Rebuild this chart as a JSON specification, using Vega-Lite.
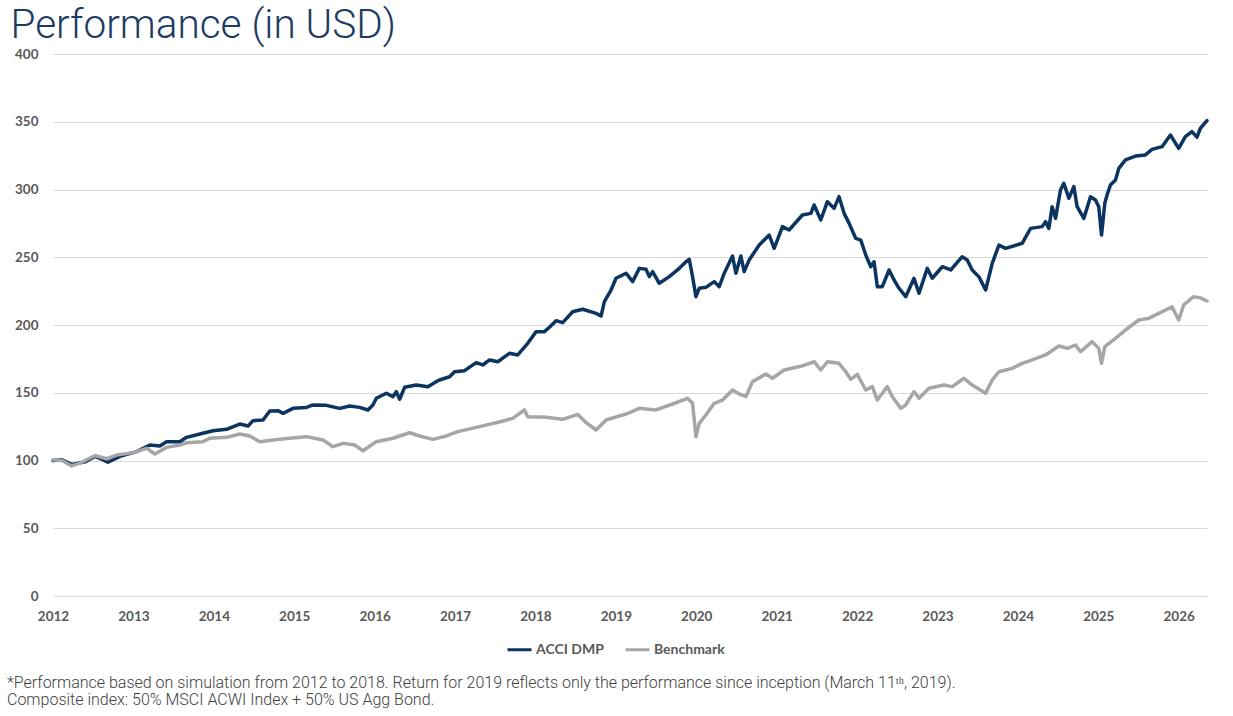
{
  "$schema": "https://vega.github.io/schema/vega-lite/v6.json",
  "width": 1154,
  "height": 542,
  "autosize": {"type": "none"},
  "padding": {"left": 53, "top": 54, "right": 26, "bottom": 120},
  "background": "white",
  "config": {
    "view": {"stroke": null},
    "font": "Lato"
  },
  "title": {
    "text": ["*Performance based on simulation from 2012 to 2018. Return for 2019 reflects only the performance since inception (March 11ᵗʰ, 2019).", "Composite index: 50% MSCI ACWI Index + 50% US Agg Bond."],
    "orient": "bottom",
    "anchor": "start",
    "frame": "bounds",
    "font": "Roboto",
    "fontSize": 16,
    "fontWeight": 300,
    "color": "#404040",
    "lineHeight": 17,
    "offset": 18,
    "dx": -3
  },
  "data": {
    "values": [
      {"t": 2012.000, "s": "ACCI DMP", "v": 100},
      {"t": 2012.112, "s": "ACCI DMP", "v": 100.5},
      {"t": 2012.236, "s": "ACCI DMP", "v": 97},
      {"t": 2012.398, "s": "ACCI DMP", "v": 99},
      {"t": 2012.522, "s": "ACCI DMP", "v": 103},
      {"t": 2012.584, "s": "ACCI DMP", "v": 101.5},
      {"t": 2012.683, "s": "ACCI DMP", "v": 98.7},
      {"t": 2012.832, "s": "ACCI DMP", "v": 103},
      {"t": 2013.040, "s": "ACCI DMP", "v": 106.6},
      {"t": 2013.205, "s": "ACCI DMP", "v": 111.4},
      {"t": 2013.329, "s": "ACCI DMP", "v": 110.7},
      {"t": 2013.412, "s": "ACCI DMP", "v": 113.9},
      {"t": 2013.578, "s": "ACCI DMP", "v": 113.9},
      {"t": 2013.661, "s": "ACCI DMP", "v": 117.1},
      {"t": 2013.826, "s": "ACCI DMP", "v": 119.6},
      {"t": 2013.991, "s": "ACCI DMP", "v": 122},
      {"t": 2014.158, "s": "ACCI DMP", "v": 123},
      {"t": 2014.323, "s": "ACCI DMP", "v": 126.9},
      {"t": 2014.426, "s": "ACCI DMP", "v": 125.5},
      {"t": 2014.488, "s": "ACCI DMP", "v": 129.4},
      {"t": 2014.612, "s": "ACCI DMP", "v": 129.9},
      {"t": 2014.696, "s": "ACCI DMP", "v": 136.5},
      {"t": 2014.799, "s": "ACCI DMP", "v": 136.8},
      {"t": 2014.861, "s": "ACCI DMP", "v": 134.8},
      {"t": 2014.985, "s": "ACCI DMP", "v": 138.5},
      {"t": 2015.152, "s": "ACCI DMP", "v": 139.2},
      {"t": 2015.234, "s": "ACCI DMP", "v": 141},
      {"t": 2015.400, "s": "ACCI DMP", "v": 140.7},
      {"t": 2015.565, "s": "ACCI DMP", "v": 138.5},
      {"t": 2015.689, "s": "ACCI DMP", "v": 140.2},
      {"t": 2015.814, "s": "ACCI DMP", "v": 139.2},
      {"t": 2015.917, "s": "ACCI DMP", "v": 137.3},
      {"t": 2015.979, "s": "ACCI DMP", "v": 141},
      {"t": 2016.021, "s": "ACCI DMP", "v": 145.9},
      {"t": 2016.145, "s": "ACCI DMP", "v": 149.6},
      {"t": 2016.227, "s": "ACCI DMP", "v": 147.1},
      {"t": 2016.270, "s": "ACCI DMP", "v": 150.8},
      {"t": 2016.311, "s": "ACCI DMP", "v": 145.2},
      {"t": 2016.373, "s": "ACCI DMP", "v": 154},
      {"t": 2016.518, "s": "ACCI DMP", "v": 155.7},
      {"t": 2016.662, "s": "ACCI DMP", "v": 154.5},
      {"t": 2016.766, "s": "ACCI DMP", "v": 158.2},
      {"t": 2016.807, "s": "ACCI DMP", "v": 159.4},
      {"t": 2016.932, "s": "ACCI DMP", "v": 161.8},
      {"t": 2016.994, "s": "ACCI DMP", "v": 165.5},
      {"t": 2017.118, "s": "ACCI DMP", "v": 166.3},
      {"t": 2017.263, "s": "ACCI DMP", "v": 172.2},
      {"t": 2017.345, "s": "ACCI DMP", "v": 170.5},
      {"t": 2017.429, "s": "ACCI DMP", "v": 174.2},
      {"t": 2017.532, "s": "ACCI DMP", "v": 172.9},
      {"t": 2017.677, "s": "ACCI DMP", "v": 179.1},
      {"t": 2017.780, "s": "ACCI DMP", "v": 177.9},
      {"t": 2017.904, "s": "ACCI DMP", "v": 186.5},
      {"t": 2018.009, "s": "ACCI DMP", "v": 195.1},
      {"t": 2018.112, "s": "ACCI DMP", "v": 195.1},
      {"t": 2018.174, "s": "ACCI DMP", "v": 198.3},
      {"t": 2018.257, "s": "ACCI DMP", "v": 203.2},
      {"t": 2018.339, "s": "ACCI DMP", "v": 201.7},
      {"t": 2018.463, "s": "ACCI DMP", "v": 209.8},
      {"t": 2018.588, "s": "ACCI DMP", "v": 211.6},
      {"t": 2018.754, "s": "ACCI DMP", "v": 208.6},
      {"t": 2018.816, "s": "ACCI DMP", "v": 206.6},
      {"t": 2018.857, "s": "ACCI DMP", "v": 217.2},
      {"t": 2018.940, "s": "ACCI DMP", "v": 225.8},
      {"t": 2019.002, "s": "ACCI DMP", "v": 234.5},
      {"t": 2019.127, "s": "ACCI DMP", "v": 238.2},
      {"t": 2019.209, "s": "ACCI DMP", "v": 232},
      {"t": 2019.292, "s": "ACCI DMP", "v": 241.8},
      {"t": 2019.375, "s": "ACCI DMP", "v": 241.1},
      {"t": 2019.416, "s": "ACCI DMP", "v": 235.7},
      {"t": 2019.457, "s": "ACCI DMP", "v": 239.4},
      {"t": 2019.540, "s": "ACCI DMP", "v": 230.8},
      {"t": 2019.665, "s": "ACCI DMP", "v": 235.7},
      {"t": 2019.789, "s": "ACCI DMP", "v": 241.8},
      {"t": 2019.872, "s": "ACCI DMP", "v": 246.7},
      {"t": 2019.913, "s": "ACCI DMP", "v": 248.5},
      {"t": 2019.954, "s": "ACCI DMP", "v": 235.7},
      {"t": 2019.996, "s": "ACCI DMP", "v": 220.9},
      {"t": 2020.037, "s": "ACCI DMP", "v": 227.1},
      {"t": 2020.120, "s": "ACCI DMP", "v": 227.8},
      {"t": 2020.224, "s": "ACCI DMP", "v": 232},
      {"t": 2020.286, "s": "ACCI DMP", "v": 228.3},
      {"t": 2020.348, "s": "ACCI DMP", "v": 238.2},
      {"t": 2020.451, "s": "ACCI DMP", "v": 250.9},
      {"t": 2020.493, "s": "ACCI DMP", "v": 238.2},
      {"t": 2020.555, "s": "ACCI DMP", "v": 250.9},
      {"t": 2020.596, "s": "ACCI DMP", "v": 239.4},
      {"t": 2020.658, "s": "ACCI DMP", "v": 248},
      {"t": 2020.783, "s": "ACCI DMP", "v": 259},
      {"t": 2020.907, "s": "ACCI DMP", "v": 266.4},
      {"t": 2020.969, "s": "ACCI DMP", "v": 256.6},
      {"t": 2021.072, "s": "ACCI DMP", "v": 272.6},
      {"t": 2021.155, "s": "ACCI DMP", "v": 270.1},
      {"t": 2021.320, "s": "ACCI DMP", "v": 281.2},
      {"t": 2021.425, "s": "ACCI DMP", "v": 282.4},
      {"t": 2021.466, "s": "ACCI DMP", "v": 288.6},
      {"t": 2021.549, "s": "ACCI DMP", "v": 277.5},
      {"t": 2021.631, "s": "ACCI DMP", "v": 291},
      {"t": 2021.714, "s": "ACCI DMP", "v": 286.1},
      {"t": 2021.776, "s": "ACCI DMP", "v": 294.7},
      {"t": 2021.839, "s": "ACCI DMP", "v": 282.4},
      {"t": 2021.901, "s": "ACCI DMP", "v": 275},
      {"t": 2021.984, "s": "ACCI DMP", "v": 263.9},
      {"t": 2022.046, "s": "ACCI DMP", "v": 262.7},
      {"t": 2022.108, "s": "ACCI DMP", "v": 251.7},
      {"t": 2022.170, "s": "ACCI DMP", "v": 243},
      {"t": 2022.211, "s": "ACCI DMP", "v": 246.7},
      {"t": 2022.252, "s": "ACCI DMP", "v": 228.3},
      {"t": 2022.314, "s": "ACCI DMP", "v": 228.3},
      {"t": 2022.398, "s": "ACCI DMP", "v": 240.6},
      {"t": 2022.460, "s": "ACCI DMP", "v": 233.2},
      {"t": 2022.522, "s": "ACCI DMP", "v": 227.1},
      {"t": 2022.605, "s": "ACCI DMP", "v": 220.9},
      {"t": 2022.708, "s": "ACCI DMP", "v": 234.5},
      {"t": 2022.770, "s": "ACCI DMP", "v": 223.4},
      {"t": 2022.873, "s": "ACCI DMP", "v": 241.8},
      {"t": 2022.935, "s": "ACCI DMP", "v": 234.5},
      {"t": 2023.060, "s": "ACCI DMP", "v": 243},
      {"t": 2023.164, "s": "ACCI DMP", "v": 240.6},
      {"t": 2023.308, "s": "ACCI DMP", "v": 250.4},
      {"t": 2023.370, "s": "ACCI DMP", "v": 248},
      {"t": 2023.432, "s": "ACCI DMP", "v": 240.6},
      {"t": 2023.516, "s": "ACCI DMP", "v": 235.5},
      {"t": 2023.599, "s": "ACCI DMP", "v": 225.8},
      {"t": 2023.681, "s": "ACCI DMP", "v": 245.5},
      {"t": 2023.764, "s": "ACCI DMP", "v": 259},
      {"t": 2023.847, "s": "ACCI DMP", "v": 256.6},
      {"t": 2024.053, "s": "ACCI DMP", "v": 260.3},
      {"t": 2024.158, "s": "ACCI DMP", "v": 271.3},
      {"t": 2024.302, "s": "ACCI DMP", "v": 272.6},
      {"t": 2024.344, "s": "ACCI DMP", "v": 276.3},
      {"t": 2024.385, "s": "ACCI DMP", "v": 271.3},
      {"t": 2024.426, "s": "ACCI DMP", "v": 287.3},
      {"t": 2024.468, "s": "ACCI DMP", "v": 278.7},
      {"t": 2024.530, "s": "ACCI DMP", "v": 299.6},
      {"t": 2024.571, "s": "ACCI DMP", "v": 304.6},
      {"t": 2024.634, "s": "ACCI DMP", "v": 293.5},
      {"t": 2024.696, "s": "ACCI DMP", "v": 302.1},
      {"t": 2024.737, "s": "ACCI DMP", "v": 287.3},
      {"t": 2024.820, "s": "ACCI DMP", "v": 278.7},
      {"t": 2024.903, "s": "ACCI DMP", "v": 294.7},
      {"t": 2024.965, "s": "ACCI DMP", "v": 292.3},
      {"t": 2025.006, "s": "ACCI DMP", "v": 287.3},
      {"t": 2025.040, "s": "ACCI DMP", "v": 266.4},
      {"t": 2025.081, "s": "ACCI DMP", "v": 289.8},
      {"t": 2025.109, "s": "ACCI DMP", "v": 295.9},
      {"t": 2025.151, "s": "ACCI DMP", "v": 303.3},
      {"t": 2025.214, "s": "ACCI DMP", "v": 307},
      {"t": 2025.255, "s": "ACCI DMP", "v": 315.6},
      {"t": 2025.338, "s": "ACCI DMP", "v": 321.8},
      {"t": 2025.462, "s": "ACCI DMP", "v": 324.7},
      {"t": 2025.586, "s": "ACCI DMP", "v": 325.5},
      {"t": 2025.668, "s": "ACCI DMP", "v": 329.6},
      {"t": 2025.793, "s": "ACCI DMP", "v": 331.6},
      {"t": 2025.897, "s": "ACCI DMP", "v": 340.2},
      {"t": 2026.000, "s": "ACCI DMP", "v": 330.4},
      {"t": 2026.083, "s": "ACCI DMP", "v": 339},
      {"t": 2026.165, "s": "ACCI DMP", "v": 342.7},
      {"t": 2026.227, "s": "ACCI DMP", "v": 338.6},
      {"t": 2026.270, "s": "ACCI DMP", "v": 345.2},
      {"t": 2026.352, "s": "ACCI DMP", "v": 350.8},
      {"t": 2012.000, "s": "Benchmark", "v": 100.5},
      {"t": 2012.112, "s": "Benchmark", "v": 100},
      {"t": 2012.232, "s": "Benchmark", "v": 96},
      {"t": 2012.335, "s": "Benchmark", "v": 98},
      {"t": 2012.522, "s": "Benchmark", "v": 103.7},
      {"t": 2012.667, "s": "Benchmark", "v": 101.3},
      {"t": 2012.791, "s": "Benchmark", "v": 104},
      {"t": 2012.998, "s": "Benchmark", "v": 105.8},
      {"t": 2013.164, "s": "Benchmark", "v": 109},
      {"t": 2013.267, "s": "Benchmark", "v": 104.8},
      {"t": 2013.412, "s": "Benchmark", "v": 109.7},
      {"t": 2013.578, "s": "Benchmark", "v": 111.4},
      {"t": 2013.661, "s": "Benchmark", "v": 113.1},
      {"t": 2013.867, "s": "Benchmark", "v": 113.9},
      {"t": 2013.950, "s": "Benchmark", "v": 116.4},
      {"t": 2014.158, "s": "Benchmark", "v": 117.1},
      {"t": 2014.323, "s": "Benchmark", "v": 119.6},
      {"t": 2014.447, "s": "Benchmark", "v": 118.1},
      {"t": 2014.571, "s": "Benchmark", "v": 113.9},
      {"t": 2014.737, "s": "Benchmark", "v": 115.1},
      {"t": 2014.944, "s": "Benchmark", "v": 116.4},
      {"t": 2015.152, "s": "Benchmark", "v": 117.6},
      {"t": 2015.358, "s": "Benchmark", "v": 115.1},
      {"t": 2015.482, "s": "Benchmark", "v": 110.2},
      {"t": 2015.606, "s": "Benchmark", "v": 112.7},
      {"t": 2015.752, "s": "Benchmark", "v": 111.4},
      {"t": 2015.855, "s": "Benchmark", "v": 107.2},
      {"t": 2016.021, "s": "Benchmark", "v": 113.9},
      {"t": 2016.227, "s": "Benchmark", "v": 116.4},
      {"t": 2016.435, "s": "Benchmark", "v": 120.5},
      {"t": 2016.559, "s": "Benchmark", "v": 118.1},
      {"t": 2016.724, "s": "Benchmark", "v": 115.6},
      {"t": 2016.891, "s": "Benchmark", "v": 118.1},
      {"t": 2017.035, "s": "Benchmark", "v": 121.3},
      {"t": 2017.304, "s": "Benchmark", "v": 125},
      {"t": 2017.512, "s": "Benchmark", "v": 127.9},
      {"t": 2017.718, "s": "Benchmark", "v": 131.1},
      {"t": 2017.863, "s": "Benchmark", "v": 137.3},
      {"t": 2017.904, "s": "Benchmark", "v": 132.3},
      {"t": 2018.133, "s": "Benchmark", "v": 131.9},
      {"t": 2018.339, "s": "Benchmark", "v": 130.4},
      {"t": 2018.525, "s": "Benchmark", "v": 134.1},
      {"t": 2018.630, "s": "Benchmark", "v": 127.9},
      {"t": 2018.754, "s": "Benchmark", "v": 122.5},
      {"t": 2018.878, "s": "Benchmark", "v": 129.9},
      {"t": 2019.127, "s": "Benchmark", "v": 134.3},
      {"t": 2019.292, "s": "Benchmark", "v": 138.5},
      {"t": 2019.499, "s": "Benchmark", "v": 137.3},
      {"t": 2019.706, "s": "Benchmark", "v": 141.7},
      {"t": 2019.892, "s": "Benchmark", "v": 145.9},
      {"t": 2019.954, "s": "Benchmark", "v": 142.2},
      {"t": 2019.996, "s": "Benchmark", "v": 117.6},
      {"t": 2020.037, "s": "Benchmark", "v": 127.4},
      {"t": 2020.120, "s": "Benchmark", "v": 133.6},
      {"t": 2020.224, "s": "Benchmark", "v": 142.2},
      {"t": 2020.327, "s": "Benchmark", "v": 144.6},
      {"t": 2020.451, "s": "Benchmark", "v": 152},
      {"t": 2020.534, "s": "Benchmark", "v": 149.1},
      {"t": 2020.617, "s": "Benchmark", "v": 147.1},
      {"t": 2020.699, "s": "Benchmark", "v": 158.2},
      {"t": 2020.866, "s": "Benchmark", "v": 163.8},
      {"t": 2020.948, "s": "Benchmark", "v": 160.7},
      {"t": 2021.093, "s": "Benchmark", "v": 166.8},
      {"t": 2021.300, "s": "Benchmark", "v": 169.5},
      {"t": 2021.466, "s": "Benchmark", "v": 172.9},
      {"t": 2021.549, "s": "Benchmark", "v": 166.8},
      {"t": 2021.631, "s": "Benchmark", "v": 172.9},
      {"t": 2021.776, "s": "Benchmark", "v": 171.7},
      {"t": 2021.860, "s": "Benchmark", "v": 165.5},
      {"t": 2021.922, "s": "Benchmark", "v": 160},
      {"t": 2022.004, "s": "Benchmark", "v": 163.5},
      {"t": 2022.108, "s": "Benchmark", "v": 152},
      {"t": 2022.190, "s": "Benchmark", "v": 154.5},
      {"t": 2022.252, "s": "Benchmark", "v": 144.6},
      {"t": 2022.376, "s": "Benchmark", "v": 154.5},
      {"t": 2022.439, "s": "Benchmark", "v": 147.1},
      {"t": 2022.543, "s": "Benchmark", "v": 138.5},
      {"t": 2022.605, "s": "Benchmark", "v": 141},
      {"t": 2022.708, "s": "Benchmark", "v": 150.8},
      {"t": 2022.770, "s": "Benchmark", "v": 145.9},
      {"t": 2022.894, "s": "Benchmark", "v": 153.3},
      {"t": 2023.081, "s": "Benchmark", "v": 155.7},
      {"t": 2023.184, "s": "Benchmark", "v": 154.5},
      {"t": 2023.329, "s": "Benchmark", "v": 160.7},
      {"t": 2023.432, "s": "Benchmark", "v": 155.7},
      {"t": 2023.599, "s": "Benchmark", "v": 149.6},
      {"t": 2023.681, "s": "Benchmark", "v": 159.4},
      {"t": 2023.764, "s": "Benchmark", "v": 165.5},
      {"t": 2023.929, "s": "Benchmark", "v": 168},
      {"t": 2024.053, "s": "Benchmark", "v": 171.7},
      {"t": 2024.178, "s": "Benchmark", "v": 174.2},
      {"t": 2024.344, "s": "Benchmark", "v": 177.9},
      {"t": 2024.509, "s": "Benchmark", "v": 184.5},
      {"t": 2024.612, "s": "Benchmark", "v": 182.8},
      {"t": 2024.717, "s": "Benchmark", "v": 185.2},
      {"t": 2024.779, "s": "Benchmark", "v": 180.3},
      {"t": 2024.923, "s": "Benchmark", "v": 187.7},
      {"t": 2025.006, "s": "Benchmark", "v": 182.8},
      {"t": 2025.040, "s": "Benchmark", "v": 171.7},
      {"t": 2025.081, "s": "Benchmark", "v": 184},
      {"t": 2025.214, "s": "Benchmark", "v": 190.1},
      {"t": 2025.338, "s": "Benchmark", "v": 196.3},
      {"t": 2025.503, "s": "Benchmark", "v": 203.7},
      {"t": 2025.627, "s": "Benchmark", "v": 204.9},
      {"t": 2025.752, "s": "Benchmark", "v": 208.6},
      {"t": 2025.917, "s": "Benchmark", "v": 213.5},
      {"t": 2026.000, "s": "Benchmark", "v": 203.7},
      {"t": 2026.062, "s": "Benchmark", "v": 214.8},
      {"t": 2026.186, "s": "Benchmark", "v": 220.9},
      {"t": 2026.270, "s": "Benchmark", "v": 220},
      {"t": 2026.352, "s": "Benchmark", "v": 217.7}
    ]
  },
  "mark": {"type": "line", "strokeWidth": 3.5, "strokeJoin": "round", "strokeCap": "round"},
  "encoding": {
    "x": {
      "field": "t",
      "type": "quantitative",
      "scale": {"domain": [2012, 2026.352], "nice": false, "zero": false},
      "axis": {
        "values": [2012, 2013, 2014, 2015, 2016, 2017, 2018, 2019, 2020, 2021, 2022, 2023, 2024, 2025, 2026],
        "format": "d",
        "title": null,
        "grid": false,
        "domain": false,
        "ticks": false,
        "tickSize": 0,
        "labelPadding": 13,
        "labelFont": "Lato",
        "labelFontWeight": "bold",
        "labelFontSize": 13.5,
        "labelColor": "#595959",
        "labelFlush": false,
        "labelOverlap": false
      }
    },
    "y": {
      "field": "v",
      "type": "quantitative",
      "scale": {"domain": [0, 400], "nice": false},
      "axis": {
        "values": [0, 50, 100, 150, 200, 250, 300, 350, 400],
        "title": "Performance (in USD)",
        "titleAngle": 0,
        "titleAlign": "left",
        "titleBaseline": "alphabetic",
        "titleX": -43,
        "titleY": -17,
        "titleFont": "Roboto",
        "titleFontWeight": 300,
        "titleFontSize": 40.5,
        "titleColor": "#1c3b63",
        "grid": true,
        "gridColor": "#d9d9d9",
        "gridWidth": 1,
        "domain": false,
        "ticks": false,
        "tickSize": 0,
        "labelPadding": 15,
        "labelFont": "Lato",
        "labelFontWeight": "bold",
        "labelFontSize": 13.5,
        "labelColor": "#595959"
      }
    },
    "color": {
      "field": "s",
      "type": "nominal",
      "scale": {"domain": ["ACCI DMP", "Benchmark"], "range": ["#0c3461", "#a6a6a6"]},
      "legend": {
        "orient": "none",
        "legendX": 453,
        "legendY": 582,
        "direction": "horizontal",
        "title": null,
        "symbolType": "stroke",
        "symbolStrokeWidth": 3,
        "symbolSize": 576,
        "labelFont": "Lato",
        "labelFontWeight": "bold",
        "labelFontSize": 14,
        "labelColor": "#595959",
        "labelOffset": 3,
        "columnPadding": 15
      }
    },
    "order": {"field": "t", "type": "quantitative"}
  }
}
